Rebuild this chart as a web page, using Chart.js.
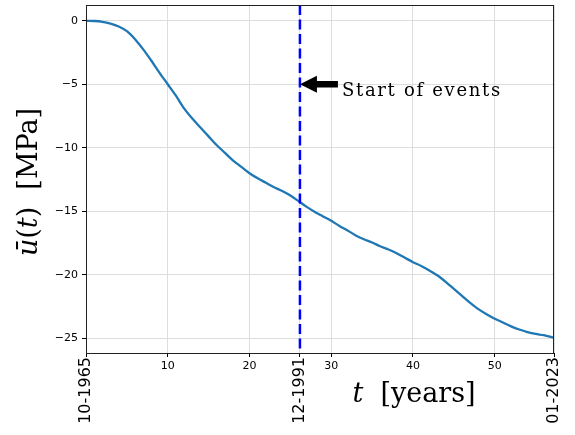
<!DOCTYPE html>
<html>
<head>
<meta charset="utf-8">
<script src="https://cdn.jsdelivr.net/npm/chart.js@4"></script>
<style>
  html, body { margin: 0; padding: 0; background: #fff; }
  #wrap { width: 575px; height: 435px; }
</style>
</head>
<body>
<div id="wrap"><canvas id="c" width="575" height="435"></canvas></div>
<script>
// time since 10-1965 in years, and mean stress value
const tYears = [0, 1, 2, 3, 4, 5, 6, 7, 8, 9, 10, 11, 12, 13, 14, 15, 16, 17, 18, 19,
  20, 21, 22, 23, 24, 25, 26, 27, 28, 29, 30, 31, 32, 33, 34, 35, 36, 37, 38, 39,
  40, 41, 42, 43, 44, 45, 46, 47, 48, 49, 50, 51, 52, 53, 54, 55, 56, 57.25];
const uMean = [0, -0.02, -0.08, -0.22, -0.45, -0.82, -1.45, -2.25, -3.15, -4.1,
  -5.0, -5.9, -6.9, -7.7, -8.4, -9.1, -9.8, -10.4, -11.0, -11.5,
  -12.0, -12.4, -12.75, -13.1, -13.4, -13.75, -14.2, -14.65, -15.05, -15.4,
  -15.75, -16.15, -16.5, -16.9, -17.2, -17.45, -17.75, -18.0, -18.3, -18.65,
  -19.0, -19.3, -19.65, -20.05, -20.55, -21.1, -21.65, -22.2, -22.7, -23.1,
  -23.45, -23.75, -24.05, -24.3, -24.5, -24.65, -24.75, -24.95];

const xTicks = [10, 20, 30, 40, 50];
const yTicks = [-25, -20, -15, -10, -5, 0];
const dateTicks = [0, 26.17, 57.25];
const dateLabels = ['10-1965', '12-1991', '01-2023'];
const eventT = 26.17;
const eventU = -5;
const eventText = 'Start of events';

const points = tYears.map((t, i) => ({ x: t, y: uMean[i] }));

const serifIt = 'italic 27px "DejaVu Serif"';
const serif = '27px "DejaVu Serif"';

function drawParts(ctx, parts, cx, cy) {
  let total = 0;
  parts.forEach(p => { ctx.font = p[1]; total += ctx.measureText(p[0]).width; });
  let x = cx - total / 2;
  parts.forEach(p => {
    ctx.font = p[1];
    ctx.fillText(p[0], x, cy);
    x += ctx.measureText(p[0]).width;
  });
}

const extras = {
  id: 'extras',
  afterDatasetsDraw(chart) {
    const ctx = chart.ctx;
    const xs = chart.scales.x;
    const a = chart.chartArea;

    // dashed event line
    const ex = xs.getPixelForValue(eventT);
    ctx.save();
    ctx.strokeStyle = '#0000ff';
    ctx.lineWidth = 2.5;
    ctx.setLineDash([10, 4.5]);
    ctx.beginPath();
    ctx.moveTo(ex, a.top);
    ctx.lineTo(ex, a.bottom);
    ctx.stroke();
    ctx.restore();
  },
  afterDraw(chart) {
    const ctx = chart.ctx;
    const xs = chart.scales.x, ys = chart.scales.y;
    const a = chart.chartArea;

    // frame
    ctx.save();
    ctx.strokeStyle = '#222';
    ctx.lineWidth = 1;
    ctx.strokeRect(a.left + 0.5, a.top + 0.5, a.right - a.left - 1, a.bottom - a.top);
    ctx.restore();

    // rotated date labels
    ctx.save();
    ctx.fillStyle = '#000';
    ctx.font = '16px "DejaVu Sans"';
    ctx.textAlign = 'right';
    ctx.textBaseline = 'middle';
    dateTicks.forEach((t, i) => {
      const px = xs.getPixelForValue(t);
      ctx.save();
      ctx.translate(px, a.bottom + 4);
      ctx.rotate(-Math.PI / 2);
      ctx.fillText(dateLabels[i], 0, 0);
      ctx.restore();
    });
    ctx.restore();

    // arrow annotation
    const tipX = xs.getPixelForValue(eventT);
    const tipY = ys.getPixelForValue(eventU);
    ctx.save();
    ctx.fillStyle = '#000';
    ctx.beginPath();
    ctx.moveTo(tipX, tipY);
    ctx.lineTo(tipX + 17, tipY - 8.5);
    ctx.lineTo(tipX + 17, tipY - 3.3);
    ctx.lineTo(tipX + 38, tipY - 3.3);
    ctx.lineTo(tipX + 38, tipY + 3.3);
    ctx.lineTo(tipX + 17, tipY + 3.3);
    ctx.lineTo(tipX + 17, tipY + 8.5);
    ctx.closePath();
    ctx.fill();

    ctx.font = '18px "DejaVu Serif"';
    const w = ctx.measureText(eventText).width;
    ctx.letterSpacing = Math.max(0, (160 - w) / eventText.length) + 'px';
    ctx.textAlign = 'left';
    ctx.textBaseline = 'alphabetic';
    ctx.fillText(eventText, tipX + 42, tipY + 12);
    ctx.letterSpacing = '0px';
    ctx.restore();

    // y axis title
    ctx.save();
    ctx.fillStyle = '#000';
    ctx.translate(30, (a.top + a.bottom) / 2 + 3);
    ctx.rotate(-Math.PI / 2);
    ctx.textBaseline = 'middle';
    drawParts(ctx, [['ū', serifIt], ['(', serif], ['t', serifIt], [')  [MPa]', serif]], 0, 0);
    ctx.restore();

    // x axis title
    ctx.save();
    ctx.fillStyle = '#000';
    ctx.textBaseline = 'middle';
    drawParts(ctx, [['t', serifIt], ['  [years]', serif]], 414, 395);
    ctx.restore();
  }
};

new Chart(document.getElementById('c'), {
  type: 'line',
  data: {
    datasets: [{
      data: points,
      borderColor: '#1f77b4',
      borderWidth: 2.3,
      pointRadius: 0,
      tension: 0.3,
      fill: false
    }]
  },
  options: {
    responsive: false,
    animation: false,
    layout: { padding: { left: 0, top: 5, right: 21, bottom: 0 } },
    plugins: { legend: { display: false }, tooltip: { enabled: false } },
    scales: {
      x: {
        type: 'linear',
        min: 0,
        max: 57.25,
        afterBuildTicks: s => { s.ticks = [0, ...xTicks, eventT, 57.25].map(v => ({ value: v })); },
        afterFit: s => { s.height = 82; s.paddingLeft = 0; s.paddingRight = 0; },
        grid: { color: '#dddddd', lineWidth: 1, tickColor: '#000', tickLength: 4 },
        border: { display: false },
        ticks: {
          autoSkip: false,
          maxRotation: 0,
          padding: 3,
          color: '#000',
          font: { family: 'DejaVu Sans', size: 11 },
          callback: v => xTicks.includes(v) ? String(v) : ''
        }
      },
      y: {
        type: 'linear',
        min: -26.15,
        max: 1.24,
        afterBuildTicks: s => { s.ticks = yTicks.map(v => ({ value: v })); },
        afterFit: s => { s.width = 86; s.paddingTop = 0; s.paddingBottom = 0; },
        grid: { color: '#dddddd', lineWidth: 1, tickColor: '#000', tickLength: 4 },
        border: { display: false },
        ticks: {
          padding: 4,
          color: '#000',
          font: { family: 'DejaVu Sans', size: 11 },
          callback: v => v < 0 ? '\u2212' + Math.abs(v) : String(v)
        }
      }
    }
  },
  plugins: [extras]
});
</script>
</body>
</html>
